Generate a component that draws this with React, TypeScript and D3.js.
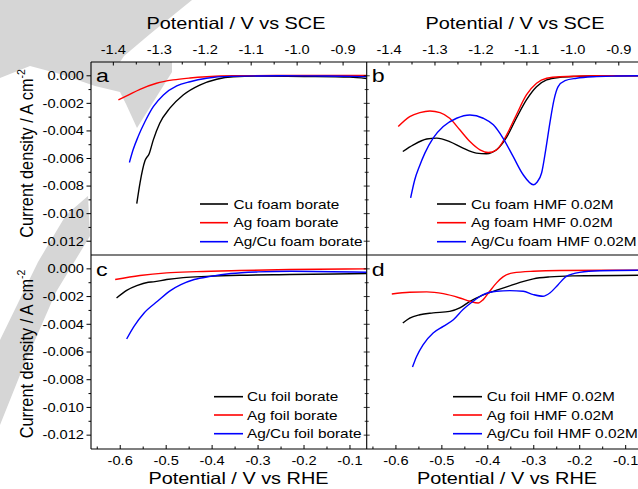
import React from "react";
import * as d3 from "d3";

// ---------------- data (x in V vs RHE, y in A cm^-2) ----------------
const seriesNames = ["Cu", "Ag", "Ag/Cu"];
const legendA = ["Cu foam borate", "Ag foam borate", "Ag/Cu foam borate"];
const legendB = ["Cu foam HMF 0.02M", "Ag foam HMF 0.02M", "Ag/Cu foam HMF 0.02M"];
const legendC = ["Cu foil borate", "Ag foil borate", "Ag/Cu foil borate"];
const legendD = ["Cu foil HMF 0.02M", "Ag foil HMF 0.02M", "Ag/Cu foil HMF 0.02M"];

const aCuX = [-0.564, -0.557, -0.546, -0.537, -0.528, -0.514, -0.492, -0.463, -0.427, -0.39, -0.354, -0.3, -0.2, -0.1, -0.064];
const aCuY = [-0.00928, -0.00778, -0.00615, -0.00565, -0.00465, -0.00344, -0.00235, -0.00139, -0.00067, -0.00025, -0.00007, -0.00002, -0.00005, -0.0001, -0.0002];
const aAgX = [-0.604, -0.586, -0.557, -0.521, -0.485, -0.448, -0.412, -0.354, -0.25, -0.15, -0.064];
const aAgY = [-0.00175, -0.00146, -0.00098, -0.00054, -0.0003, -0.00016, -0.00007, 0, 0.00002, 0.00003, 0.00003];
const aAgCuX = [-0.58, -0.572, -0.561, -0.546, -0.528, -0.506, -0.477, -0.448, -0.412, -0.361, -0.25, -0.15, -0.064];
const aAgCuY = [-0.00629, -0.00537, -0.00441, -0.00332, -0.00224, -0.00139, -0.00074, -0.00043, -0.00018, -0.00004, 0, -0.00002, -0.00006];

const bCuX = [-0.585, -0.562, -0.533, -0.511, -0.483, -0.454, -0.425, -0.403, -0.381, -0.359, -0.338, -0.316, -0.294, -0.272, -0.243, -0.207, -0.15, -0.064];
const bCuY = [-0.00549, -0.00501, -0.00459, -0.00452, -0.00477, -0.00525, -0.00561, -0.00566, -0.00537, -0.00445, -0.00308, -0.00175, -0.00079, -0.0003, -0.00011, -0.00004, 0, 0];
const bAgX = [-0.595, -0.57, -0.548, -0.526, -0.504, -0.483, -0.461, -0.439, -0.417, -0.399, -0.381, -0.359, -0.338, -0.316, -0.294, -0.272, -0.243, -0.15, -0.064];
const bAgY = [-0.00368, -0.00296, -0.00267, -0.00255, -0.00267, -0.00308, -0.00392, -0.00477, -0.00537, -0.00556, -0.00537, -0.00428, -0.00284, -0.00139, -0.00054, -0.00018, -0.00007, 0, 0];
const bAgCuX = [-0.568, -0.559, -0.549, -0.537, -0.519, -0.497, -0.468, -0.439, -0.41, -0.388, -0.367, -0.345, -0.323, -0.301, -0.293, -0.283, -0.274, -0.265, -0.256, -0.247, -0.232, -0.207, -0.171, -0.12, -0.064];
const bAgCuY = [-0.00886, -0.00754, -0.00658, -0.00561, -0.00452, -0.00368, -0.00308, -0.00284, -0.00308, -0.00356, -0.00452, -0.00585, -0.00718, -0.0079, -0.00772, -0.00705, -0.00537, -0.00344, -0.00175, -0.00079, -0.00035, -0.00018, -0.00007, -0.00002, 0];

const cCuX = [-0.608, -0.586, -0.564, -0.539, -0.528, -0.499, -0.463, -0.412, -0.34, -0.231, -0.064];
const cCuY = [-0.0021, -0.00155, -0.00121, -0.00097, -0.00094, -0.00077, -0.00063, -0.00054, -0.00046, -0.00041, -0.00034];
const cAgX = [-0.611, -0.557, -0.499, -0.434, -0.34, -0.231, -0.064];
const cAgY = [-0.00077, -0.00048, -0.00029, -0.0002, -0.00012, -0.00005, 0];
const cAgCuX = [-0.586, -0.57, -0.548, -0.519, -0.49, -0.468, -0.439, -0.403, -0.359, -0.301, -0.229, -0.064];
const cAgCuY = [-0.00506, -0.00415, -0.00318, -0.00234, -0.00155, -0.00114, -0.00077, -0.00054, -0.00034, -0.00022, -0.00017, -0.00025];

const dCuX = [-0.585, -0.57, -0.548, -0.519, -0.483, -0.461, -0.439, -0.417, -0.388, -0.359, -0.33, -0.301, -0.265, -0.215, -0.064];
const dCuY = [-0.00391, -0.00355, -0.00331, -0.00318, -0.00307, -0.00282, -0.00234, -0.00198, -0.00162, -0.0013, -0.00097, -0.00072, -0.00058, -0.00051, -0.00046];
const dAgX = [-0.609, -0.57, -0.533, -0.497, -0.461, -0.439, -0.421, -0.41, -0.396, -0.381, -0.367, -0.345, -0.301, -0.243, -0.064];
const dAgY = [-0.00181, -0.00169, -0.00166, -0.00179, -0.0021, -0.00234, -0.00246, -0.00222, -0.00162, -0.00101, -0.00058, -0.00029, -0.00017, -0.00012, -0.0001];
const dAgCuX = [-0.564, -0.555, -0.541, -0.519, -0.497, -0.475, -0.454, -0.432, -0.41, -0.381, -0.352, -0.323, -0.301, -0.28, -0.265, -0.247, -0.229, -0.2, -0.156, -0.064];
const dAgCuY = [-0.00709, -0.00632, -0.00548, -0.00463, -0.00415, -0.00367, -0.00294, -0.00234, -0.00186, -0.00162, -0.00157, -0.00162, -0.00186, -0.00198, -0.00174, -0.00114, -0.00054, -0.00025, -0.00014, -0.0001];

const yMajorTicks = [0, -0.002, -0.004, -0.006, -0.008, -0.01, -0.012];
const yMinorTicks = [-0.001, -0.003, -0.005, -0.007, -0.009, -0.011];
const sceMajorTicks = [-1.4, -1.3, -1.2, -1.1, -1.0, -0.9];
const sceMinorTicks = [-1.35, -1.25, -1.15, -1.05, -0.95];
const rheMajorTicks = [-0.6, -0.5, -0.4, -0.3, -0.2, -0.1];
const rheMinorTicks = [-0.65, -0.55, -0.45, -0.35, -0.25, -0.15];

// ---------------- layout ----------------
const W = 638, H = 489;
const X0 = 91, XM = 366.7, X1 = 642.4;
const YT = 62, YM = 255, YB = 449;
const RHE_DOMAIN: [number, number] = [-0.6636, -0.0636];
const SCE_SHIFT = 0.785;
const Y_DOMAIN: [number, number] = [-0.013, 0.001];
const FONT = "'Liberation Sans', Arial, Helvetica, sans-serif";
const SX = 1.22;
const COLORS = ["#000000", "#ff0000", "#0000ff"];

const loc = d3.formatLocale({ decimal: ".", thousands: ",", grouping: [3], currency: ["", ""], minus: "-" });
const fmt3 = loc.format(".3f");
const fmt1 = loc.format(".1f");

const T = ({ x, y, size, anchor = "start", children }: any) => (
  <text transform={`translate(${x},${y}) scale(${SX},1)`} fontSize={size} textAnchor={anchor} fontFamily={FONT} fill="#000">
    {children}
  </text>
);

type Panel = {
  letter: string;
  left: boolean;
  top: boolean;
  xs: number[][];
  ys: number[][];
  legend: string[];
  lx0: number;
  lx1: number;
  tx: number;
  rows: number[];
};

const panels: Panel[] = [
  { letter: "a", left: true, top: true, xs: [aCuX, aAgX, aAgCuX], ys: [aCuY, aAgY, aAgCuY], legend: legendA, lx0: 200, lx1: 228, tx: 233.5, rows: [204, 222.7, 241.7] },
  { letter: "b", left: false, top: true, xs: [bCuX, bAgX, bAgCuX], ys: [bCuY, bAgY, bAgCuY], legend: legendB, lx0: 437, lx1: 466, tx: 471, rows: [204, 222.7, 241.7] },
  { letter: "c", left: true, top: false, xs: [cCuX, cAgX, cAgCuX], ys: [cCuY, cAgY, cAgCuY], legend: legendC, lx0: 214, lx1: 243, tx: 247, rows: [396.7, 415, 433.7] },
  { letter: "d", left: false, top: false, xs: [dCuX, dAgX, dAgCuX], ys: [dCuY, dAgY, dAgCuY], legend: legendD, lx0: 453, lx1: 482, tx: 486.7, rows: [396.7, 415, 433.7] },
];

export default function App() {
  const xLeft = d3.scaleLinear().domain(RHE_DOMAIN).range([X0, XM]);
  const xRight = d3.scaleLinear().domain(RHE_DOMAIN).range([XM, X1]);
  const sceDomain: [number, number] = [RHE_DOMAIN[0] - SCE_SHIFT, RHE_DOMAIN[1] - SCE_SHIFT];
  const sLeft = d3.scaleLinear().domain(sceDomain).range([X0, XM]);
  const sRight = d3.scaleLinear().domain(sceDomain).range([XM, X1]);
  const yTop = d3.scaleLinear().domain(Y_DOMAIN).range([YM, YT]);
  const yBot = d3.scaleLinear().domain(Y_DOMAIN).range([YB, YM]);

  const els: any[] = [];

  // watermark (faint decorative shape behind the figure)
  els.push(
    <g key="wm" fill="#d6d6d6" stroke="none">
      <polygon points="0,0 192,0 150,34 124,56 120,62 172,62 172,72 137,128 126,104 120,92 95,86 60,74 30,66 0,78" />
      <polygon points="0,340 38,262 66,215 88,196 90,236 56,292 22,370 0,425" />
    </g>
  );

  panels.forEach((p) => {
    const xs = p.left ? xLeft : xRight;
    const ys = p.top ? yTop : yBot;
    const line = d3.line<[number, number]>().x((d) => xs(d[0])).y((d) => ys(d[1])).curve(d3.curveMonotoneX);
    p.xs.forEach((xa, i) => {
      const pts: [number, number][] = xa.map((v, j) => [v, p.ys[i][j]]);
      els.push(<path key={`l-${p.letter}-${seriesNames[i]}`} d={line(pts) || ""} fill="none" stroke={COLORS[i]} strokeWidth={1.4} />);
    });
    p.legend.forEach((name, i) => {
      els.push(<line key={`lg-${p.letter}-${i}`} x1={p.lx0} x2={p.lx1} y1={p.rows[i]} y2={p.rows[i]} stroke={COLORS[i]} strokeWidth={1.6} />);
      els.push(<T key={`lt-${p.letter}-${i}`} x={p.tx} y={p.rows[i] + 4.6} size={12.6}>{name}</T>);
    });
    els.push(<T key={`pl-${p.letter}`} x={p.left ? X0 + 5 : XM + 5} y={p.top ? 81.5 : 276} size={19}>{p.letter}</T>);
  });

  els.push(
    <g key="frame" stroke="#000" strokeWidth={1.1} fill="none">
      <line x1={X0} x2={X1} y1={YT} y2={YT} />
      <line x1={X0} x2={X1} y1={YM} y2={YM} />
      <line x1={X0} x2={X1} y1={YB} y2={YB} />
      <line x1={X0} x2={X0} y1={YT} y2={YB} />
      <line x1={XM} x2={XM} y1={YT} y2={YB} />
      <line x1={X1} x2={X1} y1={YT} y2={YB} />
    </g>
  );

  [yTop, yBot].forEach((ys, k) => {
    yMajorTicks.forEach((v) => {
      els.push(<line key={`ym-${k}-${v}`} x1={X0 - 4.5} x2={X0} y1={ys(v)} y2={ys(v)} stroke="#000" strokeWidth={1} />);
      els.push(<line key={`ymr-${k}-${v}`} x1={XM - 3} x2={XM + 3} y1={ys(v)} y2={ys(v)} stroke="#000" strokeWidth={0.8} />);
      els.push(<T key={`yl-${k}-${v}`} x={X0 - 7} y={ys(v) + 4.3} size={12} anchor="end">{fmt3(v)}</T>);
    });
    yMinorTicks.forEach((v) => {
      els.push(<line key={`yn-${k}-${v}`} x1={X0 - 2.5} x2={X0} y1={ys(v)} y2={ys(v)} stroke="#000" strokeWidth={1} />);
      els.push(<line key={`ynr-${k}-${v}`} x1={XM - 2} x2={XM + 2} y1={ys(v)} y2={ys(v)} stroke="#000" strokeWidth={0.8} />);
    });
  });

  [sLeft, sRight].forEach((sc, k) => {
    sceMajorTicks.forEach((v) => {
      els.push(<line key={`sm-${k}-${v}`} x1={sc(v)} x2={sc(v)} y1={YT} y2={YT + 3.5} stroke="#000" strokeWidth={1} />);
      els.push(<T key={`sl-${k}-${v}`} x={sc(v)} y={53.5} size={12} anchor="middle">{fmt1(v)}</T>);
    });
    sceMinorTicks.forEach((v) => {
      els.push(<line key={`sn-${k}-${v}`} x1={sc(v)} x2={sc(v)} y1={YT} y2={YT + 2.5} stroke="#000" strokeWidth={1} />);
    });
    els.push(<T key={`st-${k}`} x={k === 0 ? 236 : 515} y={28.5} size={16.3} anchor="middle">Potential / V vs SCE</T>);
  });

  [xLeft, xRight].forEach((sc, k) => {
    rheMajorTicks.forEach((v) => {
      els.push(<line key={`rm-${k}-${v}`} x1={sc(v)} x2={sc(v)} y1={YB} y2={YB - 4} stroke="#000" strokeWidth={1} />);
      els.push(<T key={`rl-${k}-${v}`} x={sc(v)} y={465} size={12} anchor="middle">{fmt1(v)}</T>);
    });
    rheMinorTicks.forEach((v) => {
      els.push(<line key={`rn-${k}-${v}`} x1={sc(v)} x2={sc(v)} y1={YB} y2={YB - 2.5} stroke="#000" strokeWidth={1} />);
    });
    els.push(<T key={`rt-${k}`} x={k === 0 ? 238.5 : 507} y={484} size={16.3} anchor="middle">Potential / V vs RHE</T>);
  });

  [153.5, 354].forEach((cy, k) => {
    els.push(
      <text key={`yt-${k}`} transform={`translate(32.5,${cy}) rotate(-90) scale(1,1.1)`} fontSize={16.3} textAnchor="middle" fontFamily={FONT} fill="#000">
        Current density / A cm<tspan fontSize={10.5} dy={-6.5}>-2</tspan>
      </text>
    );
  });

  return (
    <div style={{ position: "absolute", left: 0, top: 0, width: W, height: H, background: "#fff" }}>
      <svg width={W} height={H} viewBox={`0 0 ${W} ${H}`} style={{ display: "block" }}>
        <rect x={0} y={0} width={W} height={H} fill="#fff" />
        {els}
      </svg>
    </div>
  );
}
